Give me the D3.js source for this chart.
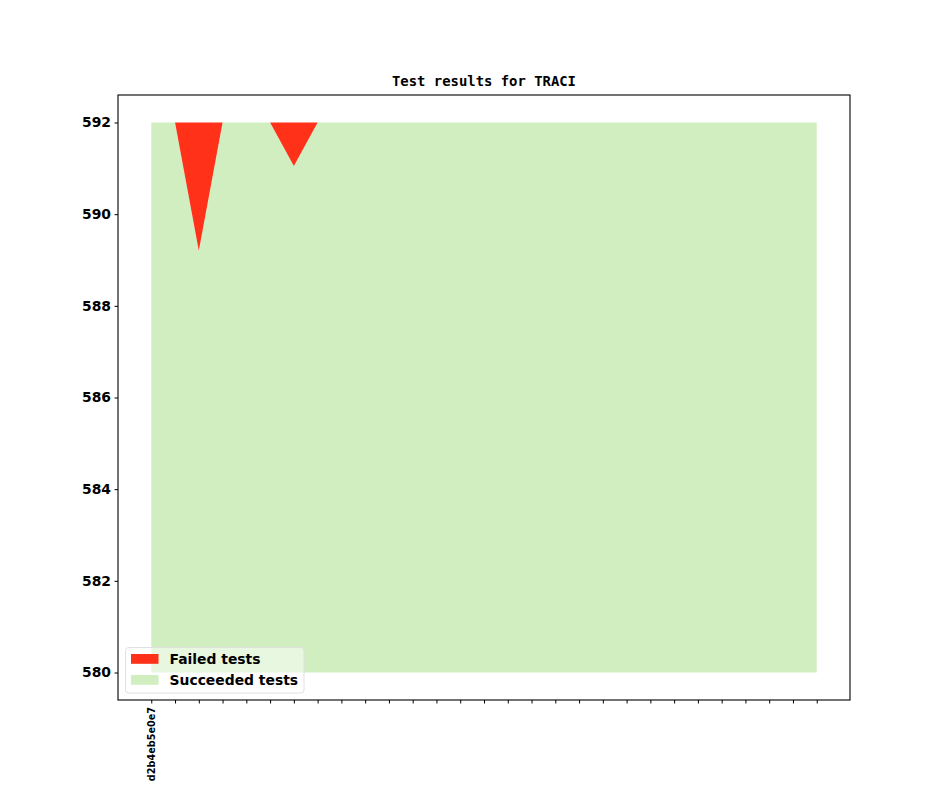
<!DOCTYPE html>
<html>
<head>
<meta charset="utf-8">
<script src="https://cdn.jsdelivr.net/npm/d3@7"></script>
<style>
  body { margin: 0; background: #fff; }
  text { fill: #000; }
</style>
</head>
<body>
<div id="chart"></div>
<script>
// commits on the x axis, only the first one got a label
var commits = ["d2b4eb5e0e7", "", "", "", "", "", "", "", "", "", "", "", "", "", "",
               "", "", "", "", "", "", "", "", "", "", "", "", "", ""];
var failedTests = [0, 0, 2.8, 0, 0, 0, 0.95, 0, 0, 0, 0, 0, 0, 0, 0,
                   0, 0, 0, 0, 0, 0, 0, 0, 0, 0, 0, 0, 0, 0];
var succeededTests = [592, 592, 589.2, 592, 592, 592, 591.05, 592, 592, 592, 592, 592, 592, 592, 592,
                      592, 592, 592, 592, 592, 592, 592, 592, 592, 592, 592, 592, 592, 592];
var yTicks = [580, 582, 584, 586, 588, 590, 592];
var baseline = 580;

var W = 944, H = 787;
var margin = { top: 95, right: 94, bottom: 87, left: 118 };
var width = W - margin.left - margin.right;
var height = H - margin.top - margin.bottom;

var n = commits.length;
var padX = (n - 1) * 0.05;
var x = d3.scaleLinear()
  .domain([-padX, n - 1 + padX])
  .range([0, width]);
var y = d3.scaleLinear()
  .domain([579.4, 592.6])
  .range([height, 0]);

var data = commits.map(function (c, i) {
  return { i: i, ok: succeededTests[i], failed: failedTests[i] };
});

var svg = d3.select("#chart").append("svg")
  .attr("width", W)
  .attr("height", H);

var g = svg.append("g")
  .attr("transform", "translate(" + margin.left + "," + margin.top + ")");

var okArea = d3.area()
  .x(function (d) { return x(d.i); })
  .y0(function (d) { return y(baseline); })
  .y1(function (d) { return y(d.ok); });

var failArea = d3.area()
  .x(function (d) { return x(d.i); })
  .y0(function (d) { return y(d.ok); })
  .y1(function (d) { return y(d.ok + d.failed); });

g.append("path")
  .datum(data)
  .attr("d", okArea)
  .attr("fill", "#d0eec0");

g.append("path")
  .datum(data)
  .attr("d", failArea)
  .attr("fill", "#ff3119");

// axes
var yAxis = d3.axisLeft(y).tickValues(yTicks).tickSize(3.5).tickPadding(3.5);
var xAxis = d3.axisBottom(x).tickValues(d3.range(n)).tickSize(3.5).tickPadding(3.5)
  .tickFormat(function (i) { return commits[i]; });

var ya = g.append("g").call(yAxis);
ya.selectAll("text")
  .style("font-family", "DejaVu Sans")
  .style("font-weight", "bold")
  .style("font-size", "13.9px");

var xa = g.append("g")
  .attr("transform", "translate(0," + height + ")")
  .call(xAxis);
xa.selectAll("text")
  .style("font-family", "DejaVu Sans")
  .style("font-weight", "bold")
  .style("font-size", "9.7px")
  .attr("transform", "rotate(-90)")
  .attr("dy", "0.35em")
  .attr("y", 0)
  .attr("x", -7)
  .style("text-anchor", "end");

[ya, xa].forEach(function (a) {
  a.select(".domain").remove();
  a.selectAll("line").attr("stroke", "#000").attr("stroke-width", 1);
});

// frame
g.append("rect")
  .attr("width", width)
  .attr("height", height)
  .attr("fill", "none")
  .attr("stroke", "#000")
  .attr("stroke-width", 1.1);

// title
svg.append("text")
  .attr("x", margin.left + width / 2)
  .attr("y", margin.top - 9)
  .attr("text-anchor", "middle")
  .style("font-family", "DejaVu Sans Mono")
  .style("font-weight", "bold")
  .style("font-size", "13.9px")
  .text("Test results for TRACI");

// legend
var legendItems = [
  { label: "Failed tests", color: "#ff3119" },
  { label: "Succeeded tests", color: "#d0eec0" }
];
var lg = svg.append("g").attr("transform", "translate(125.5,647.5)");
lg.append("rect")
  .attr("width", 178.5)
  .attr("height", 45.5)
  .attr("rx", 3)
  .attr("fill", "#fff")
  .attr("fill-opacity", 0.5)
  .attr("stroke", "#e0e0e0")
  .attr("stroke-width", 1);
lg.selectAll(".item")
  .data(legendItems)
  .enter().append("g")
  .attr("class", "item")
  .attr("transform", function (d, i) { return "translate(0," + (i * 21) + ")"; })
  .each(function (d) {
    var it = d3.select(this);
    it.append("rect")
      .attr("x", 5.5)
      .attr("y", 6.5)
      .attr("width", 27.5)
      .attr("height", 9.8)
      .attr("fill", d.color);
    it.append("text")
      .attr("x", 44)
      .attr("y", 16.8)
      .style("font-family", "DejaVu Sans")
      .style("font-weight", "bold")
      .style("font-size", "13.9px")
      .text(d.label);
  });
</script>
</body>
</html>
